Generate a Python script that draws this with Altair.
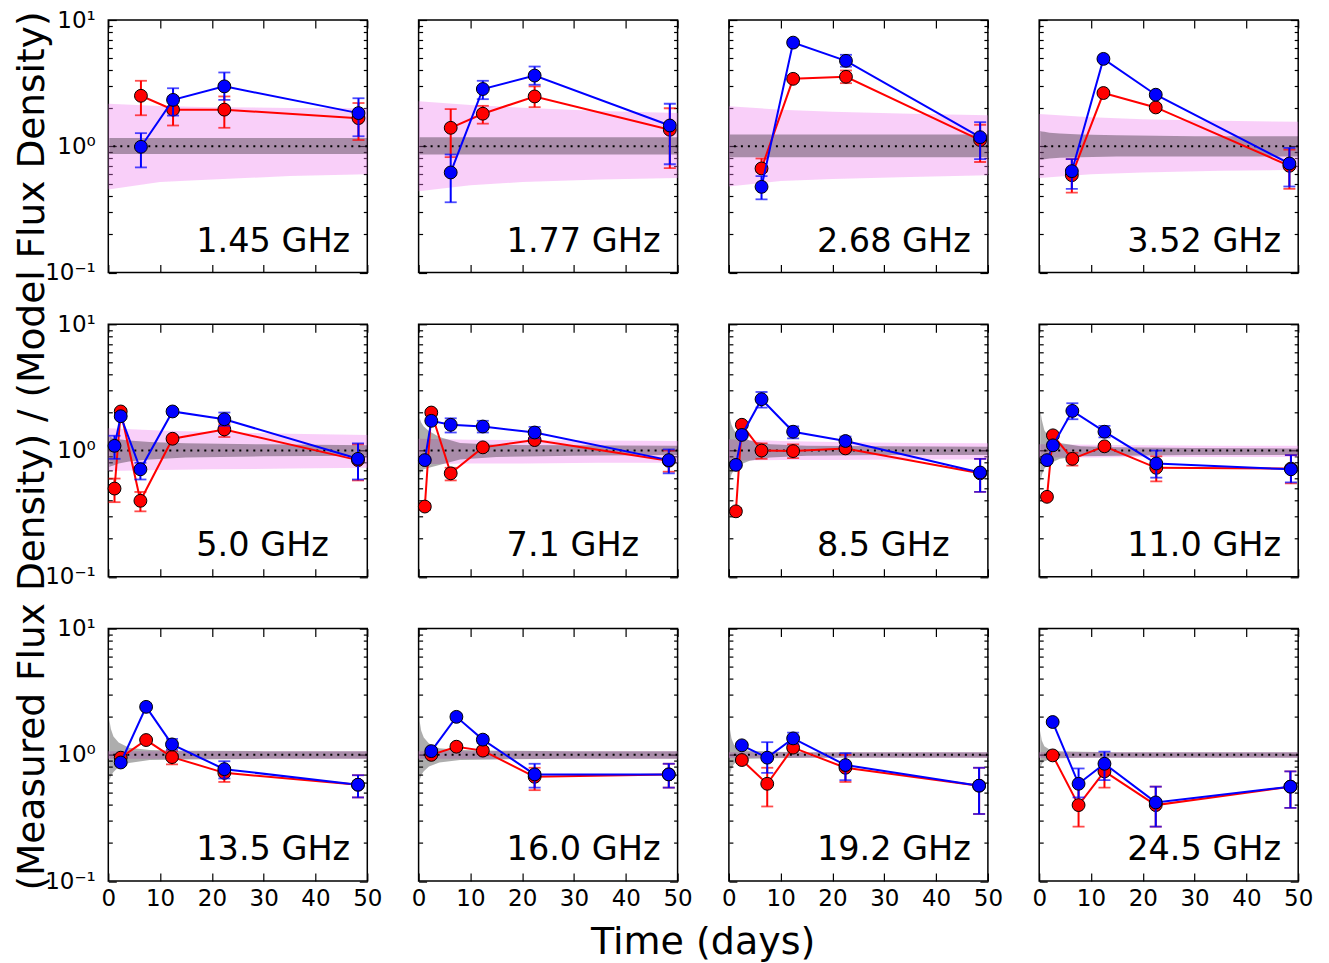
import altair as alt
import pandas as pd

LABELS = ["1.45 GHz", "1.77 GHz", "2.68 GHz", "3.52 GHz",
          "5.0 GHz", "7.1 GHz", "8.5 GHz", "11.0 GHz",
          "13.5 GHz", "16.0 GHz", "19.2 GHz", "24.5 GHz"]

TIMES = [
    [6.3, 12.5, 22.4, 48.3],
    [6.2, 12.4, 22.4, 48.5],
    [6.3, 12.4, 22.6, 48.5],
    [6.3, 12.4, 22.5, 48.3],
    [1.2, 2.4, 6.2, 12.4, 22.4, 48.2],
    [1.2, 2.45, 6.2, 12.4, 22.4, 48.3],
    [1.35, 2.5, 6.3, 12.4, 22.5, 48.5],
    [1.5, 2.65, 6.4, 12.6, 22.6, 48.6],
    [2.4, 7.3, 12.3, 22.4, 48.2],
    [2.45, 7.3, 12.4, 22.4, 48.3],
    [2.5, 7.4, 12.4, 22.5, 48.3],
    [2.6, 7.6, 12.6, 22.5, 48.5],
]

RED_VAL = [
    [2.51, 1.95, 1.95, 1.67],
    [1.40, 1.81, 2.48, 1.35],
    [0.667, 3.42, 3.55, 1.12],
    [0.59, 2.64, 2.03, 0.70],
    [0.50, 2.04, 0.40, 1.24, 1.47, 0.84],
    [0.36, 2.0, 0.66, 1.06, 1.21, 0.83],
    [0.33, 1.60, 1.0, 0.99, 1.04, 0.66],
    [0.43, 1.32, 0.86, 1.08, 0.73, 0.72],
    [0.95, 1.31, 0.96, 0.72, 0.58],
    [1.0, 1.16, 1.08, 0.67, 0.70],
    [0.91, 0.59, 1.14, 0.79, 0.57],
    [0.99, 0.40, 0.74, 0.40, 0.56],
]
RED_LO = [
    [1.76, 1.46, 1.40, 1.12],
    [0.82, 1.51, 2.04, 0.67],
    [0.63, 3.3, 3.16, 0.75],
    [0.43, 2.55, 1.95, 0.46],
    [0.39, 1.95, 0.33, 1.2, 1.28, 0.58],
    [0.34, 1.92, 0.58, 1.02, 1.15, 0.68],
    [0.31, 1.54, 0.86, 0.87, 0.99, 0.47],
    [0.41, 1.27, 0.76, 1.03, 0.57, 0.55],
    [0.91, 1.26, 0.84, 0.61, 0.46],
    [0.96, 1.1, 1.02, 0.525, 0.55],
    [0.87, 0.39, 1.08, 0.61, 0.34],
    [0.95, 0.27, 0.55, 0.27, 0.38],
]
RED_HI = [
    [3.3, 2.45, 2.48, 2.2],
    [1.97, 2.09, 2.98, 2.0],
    [0.80, 3.55, 3.98, 1.48],
    [0.79, 2.75, 2.12, 0.94],
    [0.60, 2.12, 0.47, 1.29, 1.62, 1.12],
    [0.38, 2.08, 0.73, 1.10, 1.27, 1.0],
    [0.35, 1.66, 1.14, 1.12, 1.09, 0.86],
    [0.45, 1.37, 0.96, 1.13, 0.90, 0.92],
    [0.99, 1.36, 1.07, 0.79, 0.69],
    [1.04, 1.22, 1.14, 0.79, 0.85],
    [0.95, 0.79, 1.2, 1.0, 0.79],
    [1.03, 0.60, 0.87, 0.56, 0.74],
]

BLUE_VAL = [
    [0.99, 2.33, 2.98, 1.83],
    [0.62, 2.84, 3.63, 1.46],
    [0.477, 6.62, 4.75, 1.18],
    [0.635, 4.92, 2.56, 0.73],
    [1.09, 1.87, 0.71, 2.04, 1.77, 0.86],
    [0.84, 1.72, 1.6, 1.55, 1.39, 0.84],
    [0.77, 1.33, 2.55, 1.41, 1.19, 0.67],
    [0.84, 1.10, 2.06, 1.41, 0.79, 0.71],
    [0.87, 2.40, 1.21, 0.77, 0.58],
    [1.07, 2.0, 1.32, 0.70, 0.70],
    [1.19, 0.95, 1.35, 0.83, 0.57],
    [1.82, 0.59, 0.85, 0.42, 0.56],
]
BLUE_LO = [
    [0.68, 1.75, 2.33, 1.2],
    [0.36, 2.36, 3.07, 0.72],
    [0.38, 6.4, 4.27, 0.79],
    [0.46, 4.75, 2.45, 0.48],
    [0.86, 1.8, 0.59, 1.97, 1.57, 0.59],
    [0.8, 1.66, 1.39, 1.39, 1.25, 0.66],
    [0.74, 1.28, 2.19, 1.25, 1.09, 0.47],
    [0.8, 1.06, 1.77, 1.27, 0.61, 0.56],
    [0.84, 2.32, 1.10, 0.65, 0.46],
    [1.03, 1.9, 1.24, 0.55, 0.55],
    [1.14, 0.72, 1.22, 0.63, 0.34],
    [1.75, 0.46, 0.63, 0.27, 0.38],
]
BLUE_HI = [
    [1.27, 2.88, 3.84, 2.4],
    [0.86, 3.3, 4.28, 2.17],
    [0.58, 6.85, 5.3, 1.55],
    [0.79, 5.1, 2.67, 0.97],
    [1.31, 1.95, 0.80, 2.12, 2.0, 1.14],
    [0.88, 1.78, 1.80, 1.72, 1.54, 1.02],
    [0.80, 1.38, 2.91, 1.55, 1.29, 0.86],
    [0.88, 1.14, 2.37, 1.57, 1.00, 0.92],
    [0.90, 2.48, 1.34, 0.89, 0.69],
    [1.11, 2.1, 1.40, 0.85, 0.85],
    [1.24, 1.26, 1.5, 1.03, 0.79],
    [1.89, 0.78, 1.06, 0.56, 0.74],
]

# wide (pink) model band
PINK_T = [0, 10, 20, 35, 50]
PINK_UP = [
    [2.17, 2.08, 2.04, 2.01, 2.0],
    [2.27, 2.12, 2.02, 1.9, 1.83],
    [2.07, 1.95, 1.88, 1.81, 1.76],
    [1.80, 1.7, 1.64, 1.59, 1.56],
    [1.50, 1.44, 1.40, 1.36, 1.33],
    [1.24, 1.22, 1.21, 1.2, 1.19],
    [1.23, 1.19, 1.17, 1.15, 1.14],
    [1.12, 1.11, 1.10, 1.09, 1.09],
    [1.07, 1.07, 1.07, 1.07, 1.07],
    [1.07, 1.07, 1.07, 1.07, 1.07],
    [1.05, 1.05, 1.05, 1.05, 1.05],
    [1.05, 1.05, 1.05, 1.05, 1.05],
]
PINK_LO = [
    [0.455, 0.52, 0.545, 0.58, 0.60],
    [0.44, 0.49, 0.52, 0.545, 0.56],
    [0.48, 0.53, 0.55, 0.57, 0.59],
    [0.56, 0.6, 0.62, 0.64, 0.65],
    [0.69, 0.70, 0.71, 0.72, 0.73],
    [0.78, 0.79, 0.79, 0.80, 0.80],
    [0.83, 0.84, 0.84, 0.85, 0.85],
    [0.88, 0.88, 0.89, 0.89, 0.89],
    [0.93, 0.93, 0.93, 0.93, 0.93],
    [0.93, 0.93, 0.93, 0.93, 0.93],
    [0.95, 0.95, 0.95, 0.95, 0.95],
    [0.95, 0.95, 0.95, 0.95, 0.95],
]

# narrow (grey) model band
GREY_T = [0.2, 0.5, 1, 2, 4, 8, 15, 30, 50]
GREY_UP = [
    [1.16, 1.16, 1.16, 1.16, 1.16, 1.16, 1.16, 1.16, 1.16],
    [1.18, 1.18, 1.18, 1.18, 1.18, 1.18, 1.18, 1.18, 1.18],
    [1.24, 1.24, 1.24, 1.24, 1.24, 1.24, 1.24, 1.24, 1.24],
    [1.32, 1.31, 1.3, 1.28, 1.26, 1.24, 1.22, 1.2, 1.2],
    [1.30, 1.28, 1.26, 1.23, 1.2, 1.17, 1.14, 1.12, 1.1],
    [1.8, 1.67, 1.55, 1.43, 1.28, 1.15, 1.11, 1.1, 1.09],
    [1.8, 1.6, 1.45, 1.33, 1.2, 1.12, 1.09, 1.08, 1.07],
    [2.1, 1.75, 1.45, 1.27, 1.15, 1.08, 1.06, 1.05, 1.04],
    [1.9, 1.6, 1.4, 1.25, 1.14, 1.09, 1.08, 1.07, 1.07],
    [1.85, 1.55, 1.37, 1.23, 1.13, 1.09, 1.08, 1.07, 1.07],
    [1.6, 1.35, 1.2, 1.12, 1.08, 1.06, 1.05, 1.05, 1.05],
    [1.55, 1.3, 1.17, 1.1, 1.07, 1.06, 1.05, 1.05, 1.05],
]
GREY_LO = [
    [0.87, 0.87, 0.87, 0.87, 0.87, 0.87, 0.87, 0.87, 0.87],
    [0.86, 0.86, 0.86, 0.86, 0.86, 0.86, 0.86, 0.86, 0.86],
    [0.82, 0.82, 0.82, 0.82, 0.82, 0.82, 0.82, 0.82, 0.82],
    [0.78, 0.78, 0.79, 0.8, 0.81, 0.82, 0.83, 0.83, 0.83],
    [0.74, 0.75, 0.76, 0.79, 0.82, 0.85, 0.88, 0.9, 0.91],
    [0.64, 0.69, 0.71, 0.73, 0.77, 0.85, 0.89, 0.91, 0.92],
    [0.58, 0.65, 0.7, 0.77, 0.83, 0.88, 0.91, 0.92, 0.92],
    [0.56, 0.64, 0.72, 0.79, 0.86, 0.9, 0.91, 0.92, 0.92],
    [0.62, 0.68, 0.73, 0.8, 0.86, 0.91, 0.92, 0.93, 0.93],
    [0.63, 0.69, 0.74, 0.81, 0.87, 0.91, 0.92, 0.93, 0.93],
    [0.7, 0.78, 0.85, 0.9, 0.93, 0.94, 0.95, 0.95, 0.95],
    [0.78, 0.85, 0.89, 0.92, 0.94, 0.95, 0.95, 0.95, 0.95],
]

X_TICKS = [0, 10, 20, 30, 40, 50]
Y_MAJOR = [0.1, 1, 10]
Y_MINOR = [0.2, 0.3, 0.4, 0.5, 0.6, 0.7, 0.8, 0.9, 2, 3, 4, 5, 6, 7, 8, 9]

FONT = "DejaVu Sans"
W, H = 259, 252.5
YTITLE = "(Measured Flux Density) / (Model Flux Density)"
XTITLE = "Time (days)"

xs = alt.Scale(domain=[0, 50], nice=False, zero=False)
ys = alt.Scale(type="log", domain=[0.1, 10], nice=False)


def x_axis(orient, labels, title=None):
    kw = dict(orient=orient, values=X_TICKS, offset=-8, tickSize=8, tickWidth=1.2,
              tickColor="black", domain=False, grid=False, labels=labels,
              labelFontSize=23, labelFont=FONT, labelColor="black", labelPadding=6,
              labelFlush=False, labelOverlap=False)
    if title:
        kw.update(title=title, titleFont=FONT, titleFontSize=38, titleFontWeight="normal",
                  titleColor="black", titleX=284, titleY=80, titleAlign="center",
                  titleBaseline="alphabetic", titleAngle=0)
    else:
        kw.update(title=None)
    return alt.Axis(**kw)


def y_axis(orient, values, size, labels, title=None):
    kw = dict(orient=orient, values=values, offset=-size, tickSize=size, tickWidth=1.2,
              tickColor="black", domain=False, grid=False, labels=labels,
              labelFontSize=23, labelFont=FONT, labelColor="black", labelPadding=13,
              labelFlush=False, labelOverlap=False,
              labelExpr="datum.value >= 5 ? '10\u00b9' : datum.value >= 0.5 ? '10\u2070' : '10\u207b\u00b9'")
    if title:
        kw.update(title=title, titleFont=FONT, titleFontSize=37.5, titleFontWeight="normal",
                  titleColor="black", titleX=-73, titleY=H / 2, titleAlign="center",
                  titleBaseline="alphabetic", titleAngle=270)
    else:
        kw.update(title=None)
    return alt.Axis(**kw)


def panel(i):
    row, col = divmod(i, 4)
    pts = pd.DataFrame({
        "t": TIMES[i],
        "rv": RED_VAL[i], "rlo": RED_LO[i], "rhi": RED_HI[i],
        "bv": BLUE_VAL[i], "blo": BLUE_LO[i], "bhi": BLUE_HI[i],
    })
    pink = pd.DataFrame({"t": PINK_T, "up": PINK_UP[i], "lo": PINK_LO[i]})
    grey = pd.DataFrame({"t": GREY_T, "up": GREY_UP[i], "lo": GREY_LO[i]})

    xb = x_axis("bottom", row == 2, XTITLE if i == 9 else None)
    xt = x_axis("top", False)
    yl = y_axis("left", Y_MAJOR, 8, col == 0, YTITLE if i == 4 else None)
    ylm = y_axis("left", Y_MINOR, 4, False)
    yr = y_axis("right", Y_MAJOR, 8, False)
    yrm = y_axis("right", Y_MINOR, 4, False)

    def X(field, axis=None):
        return alt.X(field, type="quantitative", scale=xs, axis=axis)

    def Y(field, axis=None):
        return alt.Y(field, type="quantitative", scale=ys, axis=axis)

    layers = [
        alt.Chart(pink).mark_area(color="#ee82ee", opacity=0.38).encode(
            x=X("t", xb), y=Y("up", yl), y2="lo"),
        alt.Chart(grey).mark_area(color="black", opacity=0.32).encode(
            x=X("t", xt), y=Y("up", ylm), y2="lo"),
        alt.Chart(alt.Data(values=[{}])).mark_rule(
            color="black", strokeDash=[2, 5], strokeWidth=2).encode(
            y=alt.Y(datum=1, type="quantitative", scale=ys, axis=None)),
    ]
    for color, v, lo, hi, first in (("red", "rv", "rlo", "rhi", True),
                                    ("blue", "bv", "blo", "bhi", False)):
        base = alt.Chart(pts)
        layers += [
            base.mark_line(color=color, strokeWidth=2).encode(
                x=X("t"), y=Y(v, yr if first else None)),
            base.mark_rule(color=color, strokeWidth=2).encode(
                x=X("t"), y=Y(lo, yrm if first else None), y2=hi),
            base.mark_tick(color=color, orient="horizontal", size=12, thickness=1.8).encode(
                x=X("t"), y=Y(lo)),
            base.mark_tick(color=color, orient="horizontal", size=12, thickness=1.8).encode(
                x=X("t"), y=Y(hi)),
            base.mark_circle(color=color, stroke="black", strokeWidth=1, size=165, opacity=1).encode(
                x=X("t"), y=Y(v)),
        ]
    layers.append(
        alt.Chart(alt.Data(values=[{"label": LABELS[i]}])).mark_text(
            align="left", baseline="alphabetic", fontSize=33.5, font=FONT, color="black").encode(
            x=alt.value(88), y=alt.value(H - 21), text="label:N"))
    return alt.layer(*layers).resolve_axis(x="independent", y="independent").properties(
        width=W, height=H)


chart = alt.concat(*[panel(i) for i in range(12)], columns=4, spacing=51.3, bounds="flush")
chart = chart.properties(
    padding={"left": 4.3, "top": 0, "right": 5, "bottom": 5},
).configure(font=FONT).configure_view(stroke="black", strokeWidth=1.5)

chart.save("out.html", embed_options={"renderer": "svg", "actions": False})
